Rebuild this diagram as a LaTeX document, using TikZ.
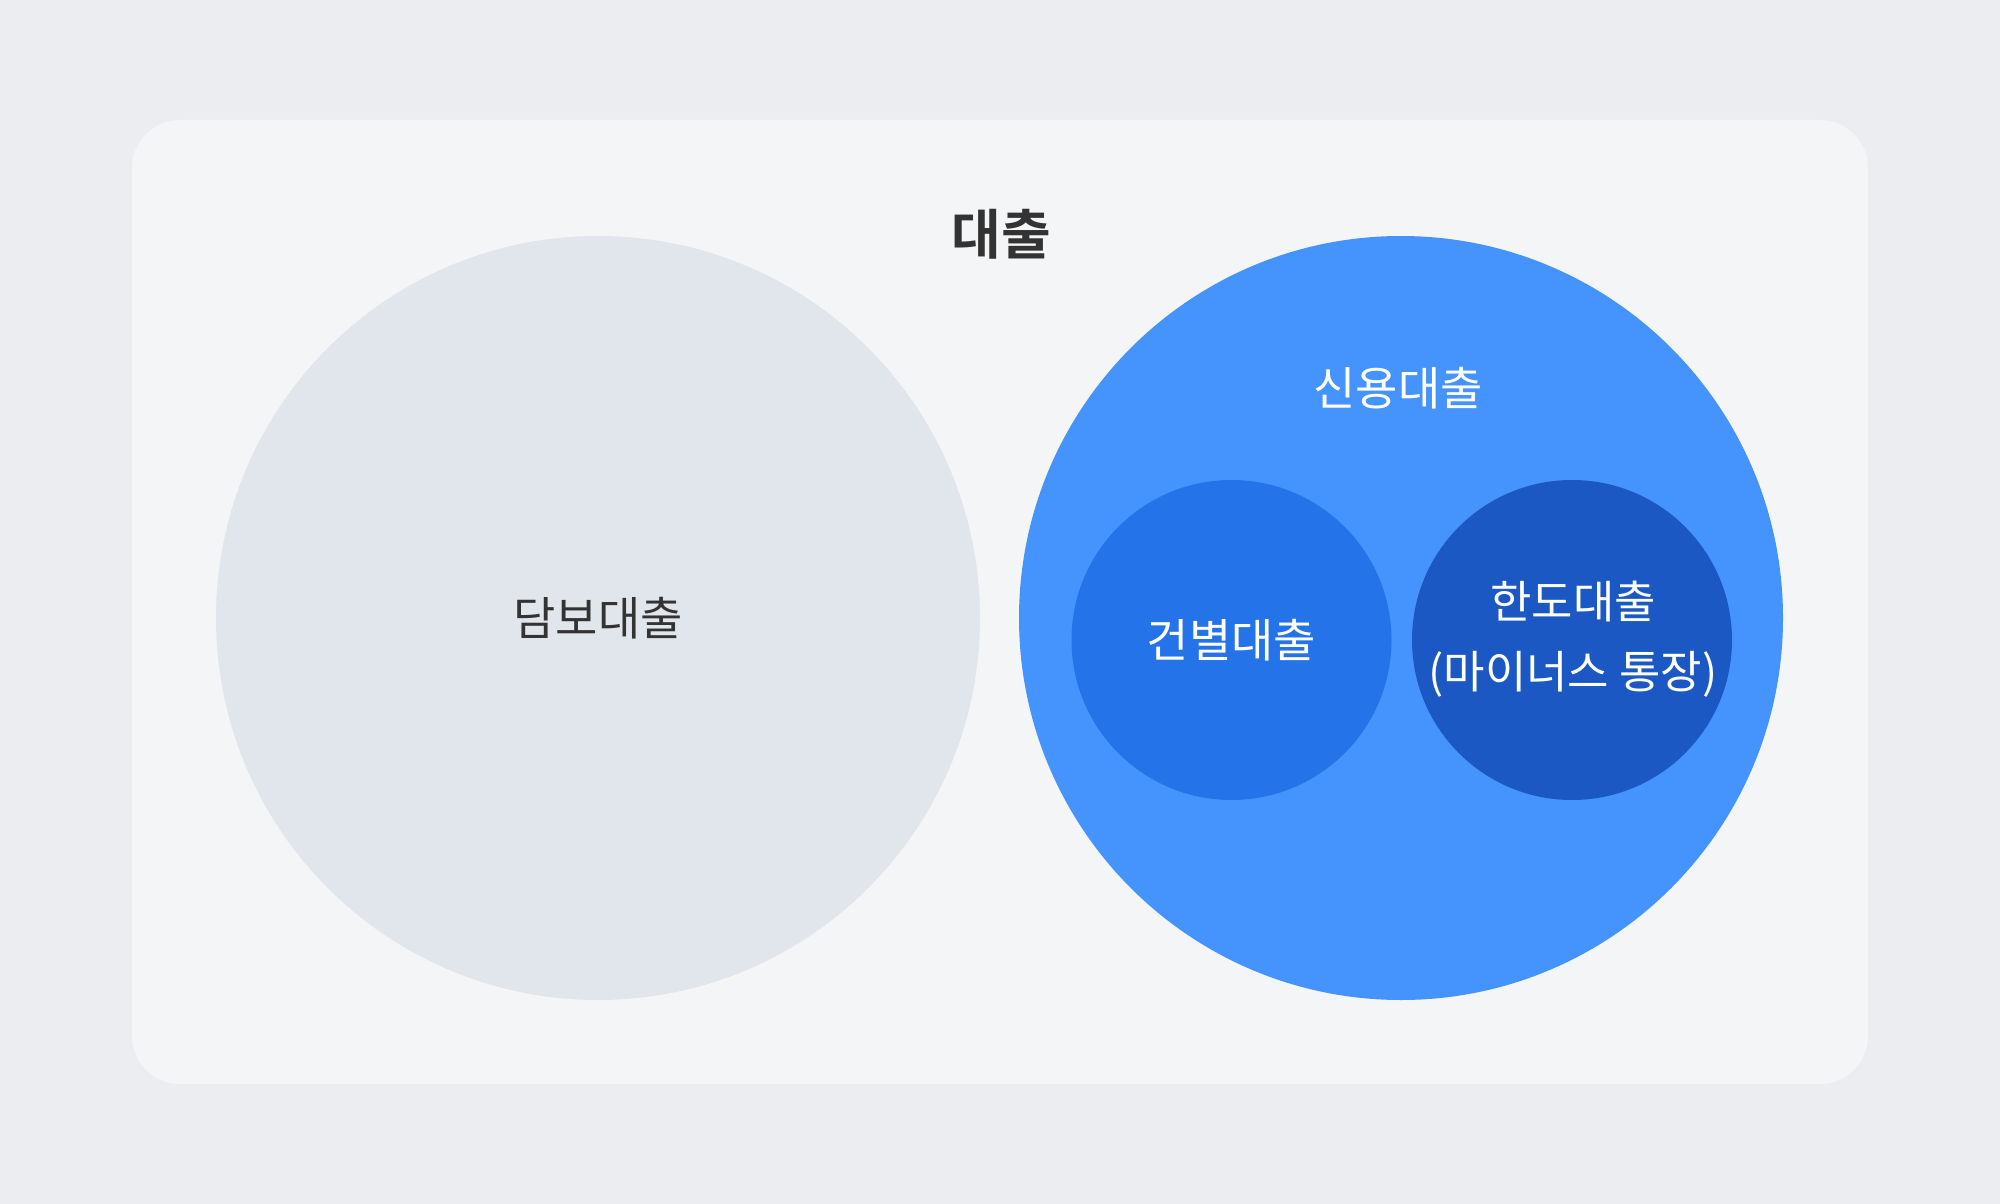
\documentclass[tikz,border=0pt]{standalone}
\usepackage{fontspec}
\setmainfont{Noto Sans CJK KR}
\newfontfamily\krbold{Noto Sans CJK KR Bold}
\definecolor{pagebg}{HTML}{ECEDF1}
\definecolor{panelbg}{HTML}{F4F5F7}
\definecolor{graycirc}{HTML}{E1E6EC}
\definecolor{bluebig}{HTML}{4593FC}
\definecolor{bluemid}{HTML}{2473E8}
\definecolor{bluedark}{HTML}{1B58C3}
\definecolor{textdark}{HTML}{333333}
\tikzset{
  circ/.style={circle, draw=none, inner sep=0pt},
  lbl/.style={font=\fontsize{46}{56}\selectfont, inner sep=0pt, align=center},
}
\begin{document}
\begin{tikzpicture}[x=1pt,y=-1pt]
\fill[pagebg] (0,0) rectangle (2000,1204);
\useasboundingbox (0,0) rectangle (2000,1204);
\fill[panelbg, rounded corners=48pt] (132,120) rectangle (1868,1084);
\node[circ, fill=graycirc, minimum size=764pt] (collat) at (598,618) {};
\node[circ, fill=bluebig, minimum size=764pt] (credit) at (1401,618) {};
\node[circ, fill=bluemid, minimum size=320pt] (case) at (1231.5,640) {};
\node[circ, fill=bluedark, minimum size=320pt] (limit) at (1572,640) {};
\node[lbl, text=textdark, font=\krbold\fontsize{54}{60}\selectfont] (title) at (1001,234) {대출};
\node[lbl, text=textdark] (collatlbl) at (598,618) {담보대출};
\node[lbl, text=white] (creditlbl) at (1398,388) {신용대출};
\node[lbl, text=white] (caselbl) at (1231.5,640) {건별대출};
\node[lbl, text=white, font=\fontsize{45}{70}\selectfont] (limitlbl) at (1573,639) {한도대출\\(마이너스 통장)};
\end{tikzpicture}
\end{document}
